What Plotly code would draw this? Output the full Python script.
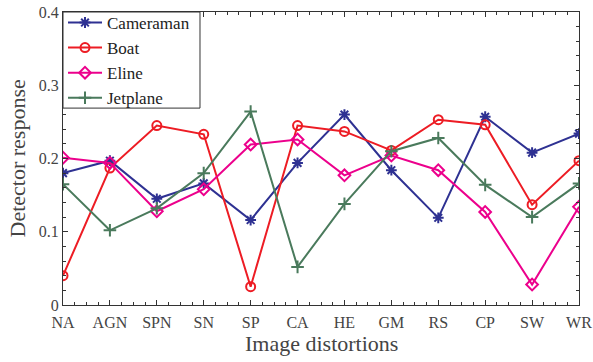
import plotly.graph_objects as go

categories = ["NA", "AGN", "SPN", "SN", "SP", "CA", "HE", "GM", "RS", "CP", "SW", "WR"]
cameraman = [0.180, 0.197, 0.145, 0.166, 0.116, 0.194, 0.260, 0.184, 0.119, 0.257, 0.208, 0.234]
boat = [0.040, 0.187, 0.245, 0.233, 0.025, 0.245, 0.237, 0.211, 0.253, 0.246, 0.137, 0.197]
eline = [0.201, 0.194, 0.128, 0.158, 0.219, 0.226, 0.177, 0.204, 0.184, 0.127, 0.028, 0.134]
jetplane = [0.165, 0.102, 0.132, 0.180, 0.264, 0.052, 0.138, 0.210, 0.228, 0.164, 0.120, 0.166]

series = [
    ("Cameraman", cameraman, "#2E3192", "asterisk-open"),
    ("Boat", boat, "#ED1C24", "circle-open"),
    ("Eline", eline, "#EC008C", "diamond-open"),
    ("Jetplane", jetplane, "#4A7A5C", "cross-thin-open"),
]

xpos = list(range(1, len(categories) + 1))
fig = go.Figure()
for name, vals, color, sym in series:
    fig.add_trace(go.Scatter(
        x=xpos, y=vals, name=name, mode="lines+markers",
        line=dict(color=color, width=2),
        marker=dict(symbol=sym, size=9, color=color, line=dict(color=color, width=2)),
    ))

font_family = "Liberation Serif"
axis_common = dict(
    showline=True, linecolor="#333333", linewidth=1, mirror="ticks",
    ticks="inside", ticklen=5, tickcolor="#333333", showgrid=False, zeroline=False,
    automargin=False,
    tickfont=dict(family=font_family, size=16, color="#444444"),
)
fig.update_layout(
    width=593, height=362,
    margin=dict(l=63, r=14, t=12, b=57, autoexpand=False),
    paper_bgcolor="white", plot_bgcolor="white",
    font=dict(family=font_family, color="#444444"),
    xaxis=dict(
        range=[1, 12], tickvals=xpos, ticktext=categories, ticklabelstandoff=3,
        minor=dict(dtick=0.25, tick0=1, ticks="inside", ticklen=3, tickcolor="#333333"),
        **axis_common,
    ),
    yaxis=dict(
        range=[0, 0.4], tickvals=[0, 0.1, 0.2, 0.3, 0.4], ticktext=["0", "0.1", "0.2", "0.3", "0.4"],
        minor=dict(dtick=0.02, tick0=0, ticks="inside", ticklen=3, tickcolor="#333333"),
        **axis_common,
    ),
    legend=dict(
        x=0.0, y=1.024, xanchor="left", yanchor="top",
        bgcolor="rgba(0,0,0,0)", borderwidth=0,
        font=dict(family=font_family, size=17, color="#222222"),
        tracegroupgap=0, itemwidth=34,
    ),
    shapes=[dict(
        type="rect", xref="paper", yref="paper",
        x0=0.0, x1=0.2655, y0=0.672, y1=1.0,
        fillcolor="white", line=dict(color="#333333", width=1), layer="above",
    )],
    annotations=[
        dict(text="Image distortions", xref="paper", yref="paper", x=0.5, y=0,
             xanchor="center", yanchor="middle", yshift=-38, showarrow=False,
             font=dict(family=font_family, size=22, color="#444444")),
        dict(text="Detector response", xref="paper", yref="paper", x=0, y=0.5,
             xanchor="center", yanchor="middle", xshift=-46, textangle=-90, showarrow=False,
             font=dict(family=font_family, size=22, color="#444444")),
    ],
)
fig.write_html("out.html")
